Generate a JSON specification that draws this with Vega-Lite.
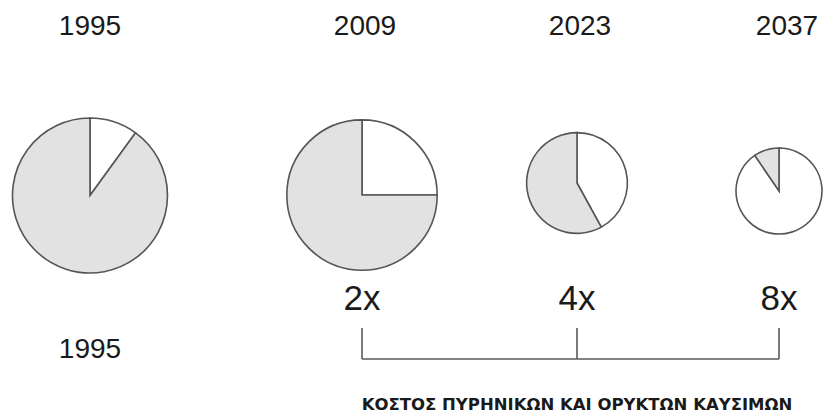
{
  "$schema": "https://vega.github.io/schema/vega-lite/v6.json",
  "width": 825,
  "height": 416,
  "padding": 0,
  "autosize": {"type": "fit", "contains": "padding"},
  "background": "white",
  "config": {"view": {"stroke": null}},
  "datasets": {
    "pies": [
      {"year": 1995, "segment": "light", "start": 0, "end": 0.1, "size": 1},
      {"year": 1995, "segment": "shaded", "start": 0.1, "end": 1, "size": 1},
      {"year": 2009, "segment": "light", "start": 0, "end": 0.25, "size": 0.97},
      {"year": 2009, "segment": "shaded", "start": 0.25, "end": 1, "size": 0.97},
      {"year": 2023, "segment": "light", "start": 0, "end": 0.42, "size": 0.65},
      {"year": 2023, "segment": "shaded", "start": 0.42, "end": 1, "size": 0.65},
      {"year": 2037, "segment": "light", "start": 0, "end": 0.905, "size": 0.555},
      {"year": 2037, "segment": "shaded", "start": 0.905, "end": 1, "size": 0.555}
    ],
    "firstyear": [
      {"year": 1995, "label": "1995"}
    ],
    "years": [
      {"year": 2009, "label": "2009"},
      {"year": 2023, "label": "2023"}
    ],
    "lastyear": [
      {"year": 2037, "label": "2037"}
    ],
    "multipliers": [
      {"year": 2009, "label": "2x"},
      {"year": 2023, "label": "4x"},
      {"year": 2037, "label": "8x"}
    ],
    "base": [
      {"year": 1995, "label": "1995"}
    ],
    "caption": [
      {"from": 2009, "to": 2037, "mid": 2023, "label": "ΚΟΣΤΟΣ ΠΥΡΗΝΙΚΩΝ ΚΑΙ ΟΡΥΚΤΩΝ ΚΑΥΣΙΜΩΝ"}
    ]
  },
  "encoding": {
    "x": {
      "field": "year",
      "type": "quantitative",
      "axis": null,
      "scale": {"domain": [1995, 2009, 2023, 2037], "range": [90, 362, 577, 779], "nice": false, "zero": false}
    }
  },
  "layer": [
    {
      "data": {"name": "pies"},
      "mark": {"type": "arc", "stroke": "#555555", "strokeWidth": 1.6},
      "encoding": {
        "y": {
          "field": "year",
          "type": "quantitative",
          "axis": null,
          "scale": {"domain": [1995, 2009, 2023, 2037], "range": [195.5, 195, 183, 191], "nice": false, "zero": false}
        },
        "theta": {"field": "start", "type": "quantitative", "stack": null, "scale": {"domain": [0, 1]}},
        "theta2": {"field": "end"},
        "radius": {"field": "size", "type": "quantitative", "scale": {"type": "linear", "domain": [0, 1], "range": [0, 77.5], "zero": true}, "legend": null},
        "color": {
          "field": "segment",
          "type": "nominal",
          "scale": {"domain": ["light", "shaded"], "range": ["#ffffff", "#e2e2e2"]},
          "legend": null
        }
      }
    },
    {
      "data": {"name": "firstyear"},
      "mark": {"type": "text", "font": "Liberation Sans", "fontSize": 28, "color": "#1a1a1a", "baseline": "alphabetic", "align": "center"},
      "encoding": {
        "y": {"value": 35},
        "text": {"field": "label"}
      }
    },
    {
      "data": {"name": "years"},
      "mark": {"type": "text", "font": "Liberation Sans", "fontSize": 28, "color": "#1a1a1a", "baseline": "alphabetic", "align": "center", "dx": 3},
      "encoding": {
        "y": {"value": 35},
        "text": {"field": "label"}
      }
    },
    {
      "data": {"name": "lastyear"},
      "mark": {"type": "text", "font": "Liberation Sans", "fontSize": 28, "color": "#1a1a1a", "baseline": "alphabetic", "align": "center", "dx": 8},
      "encoding": {
        "y": {"value": 35},
        "text": {"field": "label"}
      }
    },
    {
      "data": {"name": "multipliers"},
      "mark": {"type": "text", "font": "Liberation Sans", "fontSize": 35, "color": "#1a1a1a", "baseline": "alphabetic", "align": "center"},
      "encoding": {
        "y": {"value": 310},
        "text": {"field": "label"}
      }
    },
    {
      "data": {"name": "base"},
      "mark": {"type": "text", "font": "Liberation Sans", "fontSize": 28, "color": "#1a1a1a", "baseline": "alphabetic", "align": "center"},
      "encoding": {
        "y": {"value": 358},
        "text": {"field": "label"}
      }
    },
    {
      "data": {"name": "multipliers"},
      "mark": {"type": "rule", "color": "#5a5a5a", "strokeWidth": 1.6},
      "encoding": {
        "y": {"value": 328},
        "y2": {"value": 359}
      }
    },
    {
      "data": {"name": "caption"},
      "mark": {"type": "rule", "color": "#5a5a5a", "strokeWidth": 1.6},
      "encoding": {
        "x": {"field": "from", "type": "quantitative"},
        "x2": {"field": "to"},
        "y": {"value": 359}
      }
    },
    {
      "data": {"name": "caption"},
      "mark": {"type": "text", "font": "DejaVu Sans", "fontSize": 16.5, "fontWeight": "bold", "color": "#1a1a1a", "baseline": "alphabetic", "align": "center"},
      "encoding": {
        "x": {"field": "mid", "type": "quantitative"},
        "y": {"value": 410},
        "text": {"field": "label"}
      }
    }
  ]
}
